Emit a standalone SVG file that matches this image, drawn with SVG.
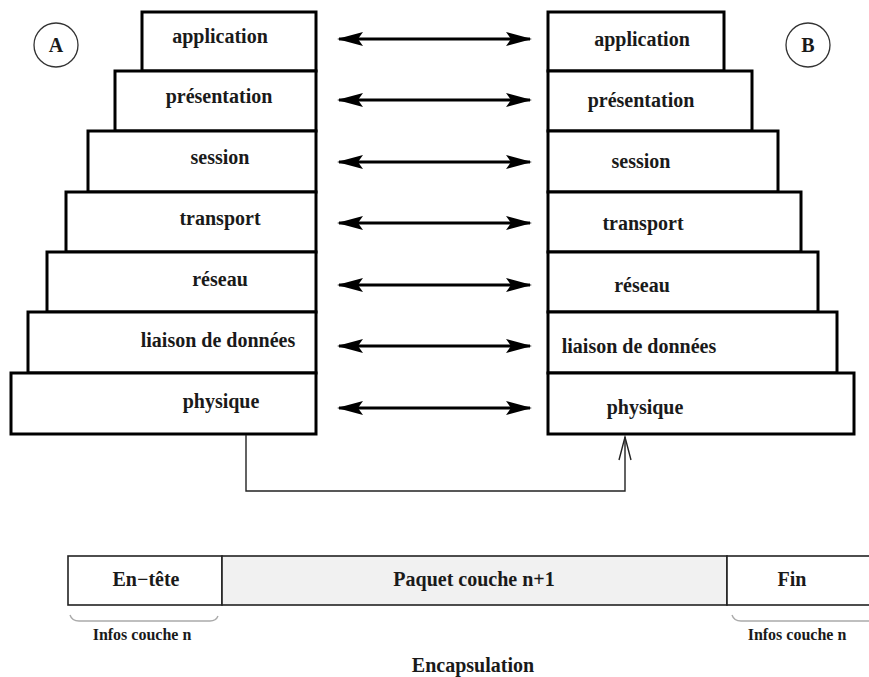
<svg xmlns="http://www.w3.org/2000/svg" width="869" height="677" viewBox="0 0 869 677">
  <style>
    .layer { fill: #ffffff; stroke: #000000; stroke-width: 3; }
    .lbl { font-family: "Liberation Serif", "DejaVu Serif", serif; font-weight: bold; font-size: 20px; fill: #1a1a1a; text-anchor: middle; }
    .tag { fill: #ffffff; stroke: #333333; stroke-width: 1.3; }
    .peer { stroke: #000000; stroke-width: 3; fill: none; marker-start: url(#headL); marker-end: url(#headR); }
    .wire { stroke: #222222; stroke-width: 1.4; fill: none; }
    .cell { stroke: #222222; stroke-width: 1.6; }
    .brace { stroke: #aaaaaa; stroke-width: 1.4; fill: none; }
    .small { font-family: "Liberation Serif", "DejaVu Serif", serif; font-weight: bold; font-size: 16px; fill: #1a1a1a; text-anchor: middle; }
  </style>
  <defs>
    <marker id="headR" viewBox="0 0 26 14" refX="24" refY="7" markerWidth="26" markerHeight="14" markerUnits="userSpaceOnUse" orient="auto">
      <path d="M26,7 L0,0 L5,7 L0,14 Z" fill="#000000"/>
    </marker>
    <marker id="headL" viewBox="0 0 26 14" refX="2" refY="7" markerWidth="26" markerHeight="14" markerUnits="userSpaceOnUse" orient="auto">
      <path d="M0,7 L26,0 L21,7 L26,14 Z" fill="#000000"/>
    </marker>
  </defs>
  <rect width="869" height="677" fill="#ffffff"/>

  <!-- Host A stack -->
  <g id="stackA">
    <g id="a-application"><rect class="layer" x="142" y="12" width="174" height="59"/><text class="lbl" x="220" y="43">application</text></g>
    <g id="a-presentation"><rect class="layer" x="115" y="71" width="201" height="60"/><text class="lbl" x="219" y="103">présentation</text></g>
    <g id="a-session"><rect class="layer" x="88" y="131" width="228" height="61"/><text class="lbl" x="220" y="164">session</text></g>
    <g id="a-transport"><rect class="layer" x="66" y="192" width="250" height="60"/><text class="lbl" x="220" y="225">transport</text></g>
    <g id="a-reseau"><rect class="layer" x="47" y="252" width="269" height="60"/><text class="lbl" x="220" y="286">réseau</text></g>
    <g id="a-liaison"><rect class="layer" x="28" y="312" width="288" height="61"/><text class="lbl" x="218" y="347">liaison de données</text></g>
    <g id="a-physique"><rect class="layer" x="11" y="373" width="305" height="61"/><text class="lbl" x="221" y="408">physique</text></g>
    <g id="tagA"><circle class="tag" cx="56" cy="45" r="22"/><text class="lbl" x="56" y="52">A</text></g>
  </g>

  <!-- Host B stack -->
  <g id="stackB">
    <g id="b-application"><rect class="layer" x="548" y="12" width="176" height="59"/><text class="lbl" x="642" y="46">application</text></g>
    <g id="b-presentation"><rect class="layer" x="548" y="71" width="204" height="60"/><text class="lbl" x="641" y="107">présentation</text></g>
    <g id="b-session"><rect class="layer" x="548" y="131" width="230" height="61"/><text class="lbl" x="641" y="168">session</text></g>
    <g id="b-transport"><rect class="layer" x="548" y="192" width="253" height="60"/><text class="lbl" x="643" y="230">transport</text></g>
    <g id="b-reseau"><rect class="layer" x="548" y="252" width="270" height="60"/><text class="lbl" x="642" y="292">réseau</text></g>
    <g id="b-liaison"><rect class="layer" x="548" y="312" width="289" height="61"/><text class="lbl" x="639" y="353">liaison de données</text></g>
    <g id="b-physique"><rect class="layer" x="548" y="373" width="306" height="61"/><text class="lbl" x="645" y="414">physique</text></g>
    <g id="tagB"><circle class="tag" cx="808" cy="45" r="22"/><text class="lbl" x="808" y="52">B</text></g>
  </g>

  <!-- Peer-to-peer links and the physical path -->
  <g id="connectors">
    <line class="peer" x1="339" y1="39" x2="530" y2="39"/>
    <line class="peer" x1="339" y1="100" x2="530" y2="100"/>
    <line class="peer" x1="339" y1="162" x2="530" y2="162"/>
    <line class="peer" x1="339" y1="223" x2="530" y2="223"/>
    <line class="peer" x1="339" y1="285" x2="530" y2="285"/>
    <line class="peer" x1="339" y1="346" x2="530" y2="346"/>
    <line class="peer" x1="339" y1="408" x2="530" y2="408"/>
    <path class="wire" d="M246,435 V491 H625 V437"/>
    <path class="wire" d="M619,460 L625,437 L631,460"/>
  </g>

  <!-- Encapsulated frame -->
  <g id="frame">
    <g id="f-header"><rect class="cell" x="68" y="556" width="154" height="49" fill="#ffffff"/><text class="lbl" x="146" y="586">En−tête</text></g>
    <g id="f-payload"><rect class="cell" x="222" y="556" width="505" height="49" fill="#f1f1f1"/><text class="lbl" x="474" y="586">Paquet couche n+1</text></g>
    <g id="f-trailer"><rect class="cell" x="727" y="556" width="150" height="49" fill="#ffffff"/><text class="lbl" x="792" y="586">Fin</text></g>
    <path class="brace" d="M70,615 Q72,621 79,621 H210 Q216,621 218,616"/>
    <path class="brace" d="M732,615 Q734,621 741,621 H870"/>
    <text class="small" x="142" y="640">Infos couche n</text>
    <text class="small" x="797" y="640">Infos couche n</text>
    <text class="lbl" x="473" y="672">Encapsulation</text>
  </g>
</svg>
